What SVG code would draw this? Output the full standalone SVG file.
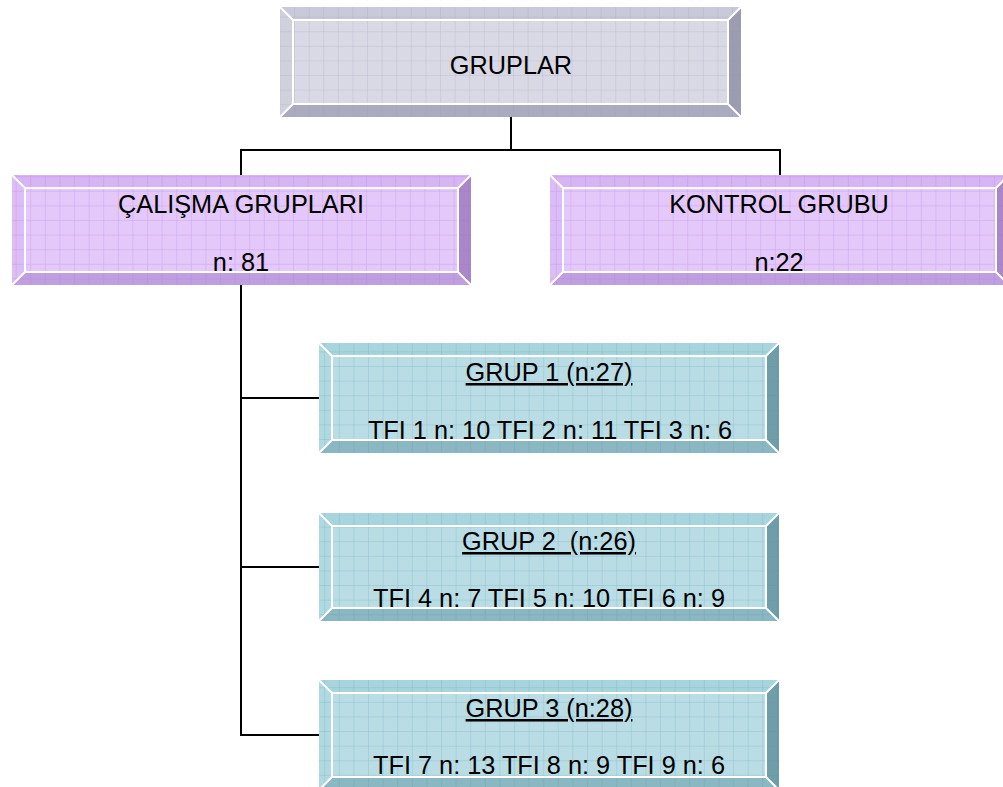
<svg xmlns="http://www.w3.org/2000/svg" width="1003" height="787" viewBox="0 0 1003 787">
  <defs>
    <pattern id="gridGray" patternUnits="userSpaceOnUse" width="14.6" height="14.6" x="3" y="3">
      <path d="M14.6 0V14.6M0 14.6H14.6" fill="none" stroke="#8a8aa8" stroke-opacity="0.35" stroke-width="1"/>
    </pattern>
    <pattern id="gridPurple" patternUnits="userSpaceOnUse" width="14.6" height="14.6" x="2" y="2">
      <path d="M14.6 0V14.6M0 14.6H14.6" fill="none" stroke="#a060d8" stroke-opacity="0.35" stroke-width="1"/>
    </pattern>
    <pattern id="gridTeal" patternUnits="userSpaceOnUse" width="14.6" height="14.6" x="4" y="2">
      <path d="M14.6 0V14.6M0 14.6H14.6" fill="none" stroke="#3f90a4" stroke-opacity="0.35" stroke-width="1"/>
    </pattern>
  </defs>
  <style>
    text { font-family: "Liberation Sans", Arial, sans-serif; font-size: 25.3px; fill: #000; text-anchor: middle; }
    .u { text-decoration: underline; }
    .hl { fill: none; stroke: #ffffff; stroke-width: 2; }
    .gray .face { fill: #d9d9e5; } .gray .bt { fill: #c9c9da; } .gray .bl { fill: #d1d1de; } .gray .br { fill: #9d9db2; } .gray .bb { fill: #ababc0; } .gray .grid { fill: url(#gridGray); }
    .purple .face { fill: #e3c8f9; } .purple .bt { fill: #d7b4f3; } .purple .bl { fill: #dcbdf6; } .purple .br { fill: #a987c8; } .purple .bb { fill: #c09fe1; } .purple .grid { fill: url(#gridPurple); }
    .teal .face { fill: #badde5; } .teal .bt { fill: #a8d4de; } .teal .bl { fill: #b1d9e2; } .teal .br { fill: #6f9ea9; } .teal .bb { fill: #8ab7c1; } .teal .grid { fill: url(#gridTeal); }
    .conn line { stroke: #000; stroke-width: 2; }
  </style>

  <!-- connectors -->
  <g id="connectors" class="conn">
    <line x1="511" y1="117" x2="511" y2="150"/>
    <line x1="240" y1="150" x2="781" y2="150"/>
    <line x1="241" y1="149" x2="241" y2="175"/>
    <line x1="780" y1="149" x2="780" y2="175"/>
    <line x1="241" y1="285" x2="241" y2="736"/>
    <line x1="240" y1="398" x2="319" y2="398"/>
    <line x1="240" y1="567" x2="319" y2="567"/>
    <line x1="240" y1="735" x2="319" y2="735"/>
  </g>

  <!-- GRUPLAR: x 280..741, y 7..117 -->
  <g id="gruplar" class="gray">
    <rect class="face" x="280" y="7" width="461" height="110"/>
    <polygon class="bt" points="280,7 741,7 728,20 293,20"/>
    <polygon class="bl" points="280,7 293,20 293,104 280,117"/>
    <polygon class="br" points="741,7 741,117 728,104 728,20"/>
    <polygon class="bb" points="280,117 293,104 728,104 741,117"/>
    <rect class="grid" x="280" y="7" width="461" height="110"/>
    <rect class="hl" x="293" y="20" width="435" height="84"/>
    <path class="hl" d="M280 7L293 20M741 7L728 20M280 117L293 104M741 117L728 104"/>
    <text x="511" y="74">GRUPLAR</text>
  </g>

  <!-- ÇALIŞMA GRUPLARI: x 12..471, y 175..285 -->
  <g id="calisma" class="purple">
    <rect class="face" x="12" y="175" width="459" height="110"/>
    <polygon class="bt" points="12,175 471,175 458,188 25,188"/>
    <polygon class="bl" points="12,175 25,188 25,272 12,285"/>
    <polygon class="br" points="471,175 471,285 458,272 458,188"/>
    <polygon class="bb" points="12,285 25,272 458,272 471,285"/>
    <rect class="grid" x="12" y="175" width="459" height="110"/>
    <rect class="hl" x="25" y="188" width="433" height="84"/>
    <path class="hl" d="M12 175L25 188M471 175L458 188M12 285L25 272M471 285L458 272"/>
    <text x="241" y="213">ÇALIŞMA GRUPLARI</text>
    <text x="241" y="271">n: 81</text>
  </g>

  <!-- KONTROL GRUBU: x 550..1009, y 175..285 -->
  <g id="kontrol" class="purple">
    <rect class="face" x="550" y="175" width="459" height="110"/>
    <polygon class="bt" points="550,175 1009,175 996,188 563,188"/>
    <polygon class="bl" points="550,175 563,188 563,272 550,285"/>
    <polygon class="br" points="1009,175 1009,285 996,272 996,188"/>
    <polygon class="bb" points="550,285 563,272 996,272 1009,285"/>
    <rect class="grid" x="550" y="175" width="459" height="110"/>
    <rect class="hl" x="563" y="188" width="433" height="84"/>
    <path class="hl" d="M550 175L563 188M1009 175L996 188M550 285L563 272M1009 285L996 272"/>
    <text x="779" y="213">KONTROL GRUBU</text>
    <text x="779" y="271">n:22</text>
  </g>

  <!-- GRUP 1: x 319..779, y 343..453 -->
  <g id="grup1" class="teal">
    <rect class="face" x="319" y="343" width="460" height="110"/>
    <polygon class="bt" points="319,343 779,343 766,356 332,356"/>
    <polygon class="bl" points="319,343 332,356 332,440 319,453"/>
    <polygon class="br" points="779,343 779,453 766,440 766,356"/>
    <polygon class="bb" points="319,453 332,440 766,440 779,453"/>
    <rect class="grid" x="319" y="343" width="460" height="110"/>
    <rect class="hl" x="332" y="356" width="434" height="84"/>
    <path class="hl" d="M319 343L332 356M779 343L766 356M319 453L332 440M779 453L766 440"/>
    <text class="u" x="549" y="381">GRUP 1 (n:27)</text>
    <text x="550" y="439">TFI 1 n: 10 TFI 2 n: 11 TFI 3 n: 6</text>
  </g>

  <!-- GRUP 2: x 319..779, y 513..621 -->
  <g id="grup2" class="teal">
    <rect class="face" x="319" y="513" width="460" height="108"/>
    <polygon class="bt" points="319,513 779,513 766,526 332,526"/>
    <polygon class="bl" points="319,513 332,526 332,608 319,621"/>
    <polygon class="br" points="779,513 779,621 766,608 766,526"/>
    <polygon class="bb" points="319,621 332,608 766,608 779,621"/>
    <rect class="grid" x="319" y="513" width="460" height="108"/>
    <rect class="hl" x="332" y="526" width="434" height="82"/>
    <path class="hl" d="M319 513L332 526M779 513L766 526M319 621L332 608M779 621L766 608"/>
    <text class="u" x="549" y="550" xml:space="preserve">GRUP 2  (n:26)</text>
    <text x="549" y="607">TFI 4 n: 7 TFI 5 n: 10 TFI 6 n: 9</text>
  </g>

  <!-- GRUP 3: x 319..779, y 680..790 -->
  <g id="grup3" class="teal">
    <rect class="face" x="319" y="680" width="460" height="110"/>
    <polygon class="bt" points="319,680 779,680 766,693 332,693"/>
    <polygon class="bl" points="319,680 332,693 332,777 319,790"/>
    <polygon class="br" points="779,680 779,790 766,777 766,693"/>
    <polygon class="bb" points="319,790 332,777 766,777 779,790"/>
    <rect class="grid" x="319" y="680" width="460" height="110"/>
    <rect class="hl" x="332" y="693" width="434" height="84"/>
    <path class="hl" d="M319 680L332 693M779 680L766 693M319 790L332 777M779 790L766 777"/>
    <text class="u" x="549" y="717">GRUP 3 (n:28)</text>
    <text x="549" y="774">TFI 7 n: 13 TFI 8 n: 9 TFI 9 n: 6</text>
  </g>
</svg>
